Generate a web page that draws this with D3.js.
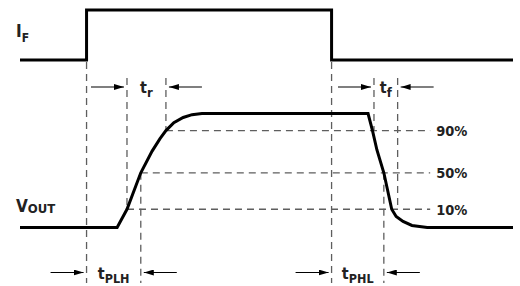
<!DOCTYPE html>
<html>
<head>
<meta charset="utf-8">
<script src="https://cdn.jsdelivr.net/npm/d3@7"></script>
<style>
body { margin: 0; background: #fff; }
svg { display: block; }
text { font-family: "Liberation Sans Narrow", "DejaVu Sans Condensed", sans-serif; font-weight: bold; fill: #222; }
.dash { stroke: #5e5e5e; stroke-width: 1.3; stroke-dasharray: 7,5; fill: none; }
.wave { stroke: #000; stroke-width: 3; fill: none; }
.dim { stroke: #000; stroke-width: 1.2; }
</style>
</head>
<body>
<script>
// input current IF: [time, level 0/1]
var ifWave = [[0, 0], [13.5, 0], [13.5, 1], [63.2, 1], [63.2, 0], [100, 0]];

// output voltage VOUT: [time, % of swing]
var voutWave = [
    [0, 0], [19.7, 0], [21.7, 16], [24.5, 48], [26.8, 67], [28.4, 78], [29.6, 85],
    [31.2, 92], [33.1, 96.5], [34.9, 99], [36.9, 100], [70.6, 100], [71.5, 85],
    [72.4, 68], [73.8, 48], [75.4, 16], [76.3, 9.6], [77.7, 5.3], [79.5, 1.8],
    [82.6, 0], [100, 0]
];

// threshold lines
var levels = [85, 48, 16];
var levelLabels = ['90%', '50%', '10%'];
var levelStart = [29.6, 24.5, 21.7];
var levelEnd = 83.2;

// timing marks (time)
var marks = {
    ifRise: 13.5, rise10: 21.7, rise50: 24.5, rise90: 29.6,
    ifFall: 63.2, fall90: 71.8, fall50: 73.8, fall10: 76.6
};

// vertical dashed guides: mark, from, to
var guides = [
    ['ifRise', 'ifLow', 'bottom'],
    ['rise10', 'top', 16],
    ['rise90', 'top', 85],
    ['rise50', 48, 'bottom'],
    ['ifFall', 'ifLow', 'bottom'],
    ['fall90', 'top', 85],
    ['fall10', 'top', 16],
    ['fall50', 48, 'bottom']
];

// timing intervals
var dims = [
    {t: 't', sub: 'r', a: 'rise10', b: 'rise90', row: 'top'},
    {t: 't', sub: 'f', a: 'fall90', b: 'fall10', row: 'top'},
    {t: 't', sub: 'PLH', a: 'ifRise', b: 'rise50', row: 'bottom'},
    {t: 't', sub: 'PHL', a: 'ifFall', b: 'fall50', row: 'bottom'}
];

var width = 520, height = 286;

var x = d3.scaleLinear().domain([0, 100]).range([20, 513]);
var yIF = d3.scaleLinear().domain([0, 1]).range([60, 10]);
var yV = d3.scaleLinear().domain([0, 100]).range([227.5, 113.5]);

var rowY = {top: 87, bottom: 272.5};

function anchorY(k) {
    if (k === 'ifLow') return yIF(0) + 2;
    if (k === 'top') return rowY.top - 9;
    if (k === 'bottom') return rowY.bottom + 10.5;
    return yV(k);
}

var svg = d3.select('body').append('svg')
    .attr('width', width)
    .attr('height', height);

svg.append('defs').append('marker')
    .attr('id', 'head')
    .attr('markerUnits', 'userSpaceOnUse')
    .attr('viewBox', '0 0 10 6')
    .attr('refX', 10)
    .attr('refY', 3)
    .attr('markerWidth', 10)
    .attr('markerHeight', 6)
    .attr('orient', 'auto')
  .append('path')
    .attr('d', 'M0,0L10,3L0,6Z')
    .attr('fill', '#000');

// threshold lines
svg.selectAll('.lvl')
    .data(levels)
    .enter().append('line')
    .attr('class', 'dash')
    .attr('x1', function(d, i) { return x(levelStart[i]); })
    .attr('x2', x(levelEnd))
    .attr('y1', function(d) { return yV(d); })
    .attr('y2', function(d) { return yV(d); });

svg.selectAll('.lvlLabel')
    .data(levels)
    .enter().append('text')
    .attr('x', x(levelEnd) + 6)
    .attr('y', function(d) { return yV(d) + 5.5; })
    .style('font-size', '14.5px')
    .text(function(d, i) { return levelLabels[i]; });

// vertical guides
svg.selectAll('.guide')
    .data(guides)
    .enter().append('line')
    .attr('class', 'dash')
    .attr('x1', function(d) { return x(marks[d[0]]); })
    .attr('x2', function(d) { return x(marks[d[0]]); })
    .attr('y1', function(d) { return anchorY(d[1]); })
    .attr('y2', function(d) { return anchorY(d[2]); });

// waveforms
var ifLine = d3.line()
    .x(function(d) { return x(d[0]); })
    .y(function(d) { return yIF(d[1]); });

var vLine = d3.line()
    .x(function(d) { return x(d[0]); })
    .y(function(d) { return yV(d[1]); });

svg.append('path').attr('class', 'wave').attr('d', ifLine(ifWave));
svg.append('path').attr('class', 'wave').attr('d', vLine(voutWave));

// dimension arrows
var gap = 3, len = 33;
dims.forEach(function(d) {
    var xa = x(marks[d.a]), xb = x(marks[d.b]), y = rowY[d.row];
    svg.append('line').attr('class', 'dim')
        .attr('x1', xa - gap - len).attr('x2', xa - gap)
        .attr('y1', y).attr('y2', y)
        .attr('marker-end', 'url(#head)');
    svg.append('line').attr('class', 'dim')
        .attr('x1', xb + gap + len).attr('x2', xb + gap)
        .attr('y1', y).attr('y2', y)
        .attr('marker-end', 'url(#head)');

    var lbl = svg.append('text')
        .attr('x', (xa + xb) / 2)
        .attr('y', y + 6)
        .attr('text-anchor', 'middle')
        .style('font-size', '16px');
    lbl.append('tspan').text(d.t);
    lbl.append('tspan')
        .attr('dy', 4)
        .style('font-size', d.sub.length > 1 ? '12.5px' : '13px')
        .text(d.sub);
});

// signal names
var ifLbl = svg.append('text').attr('x', 16).attr('y', 36.5).style('font-size', '17px');
ifLbl.append('tspan').text('I');
ifLbl.append('tspan').attr('dy', 5).style('font-size', '12px').text('F');

var vLbl = svg.append('text').attr('x', 16).attr('y', 212).style('font-size', '17px');
vLbl.append('tspan').text('V');
vLbl.append('tspan').attr('dy', 1).style('font-size', '13px').text('OUT');
</script>
</body>
</html>
